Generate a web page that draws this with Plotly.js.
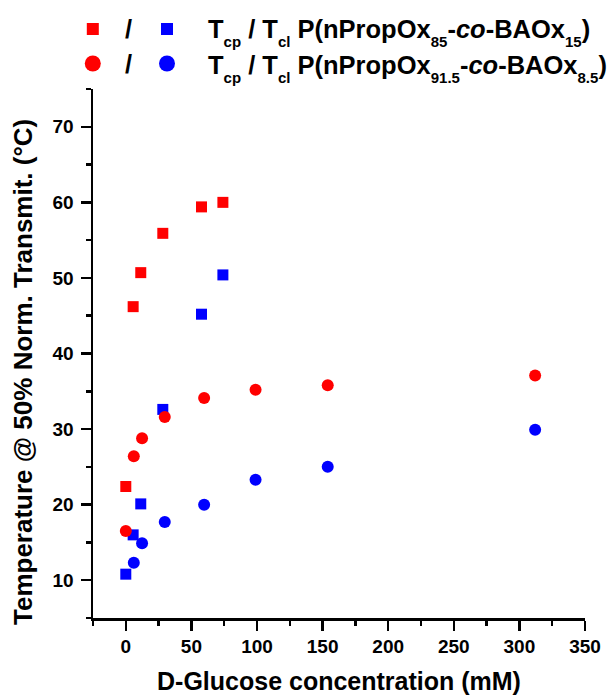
<!DOCTYPE html>
<html>
<head>
<meta charset="utf-8">
<script src="https://cdn.plot.ly/plotly-3.0.1.min.js"></script>
<style>html,body{margin:0;padding:0;background:#fff;}#chart{width:613px;height:699px;}</style>
</head>
<body>
<div id="chart"></div>
<script>
// Data
var sq85X = [0, 5.6, 11.4, 28.2, 57.7, 74.0];
var sq85Tcp = [22.4, 46.2, 50.7, 55.9, 59.4, 60.0];
var sq85Tcl = [10.8, 16.0, 20.1, 32.6, 45.2, 50.4];

var ci91X_cp = [0, 6.1, 12.4, 29.7, 59.7, 98.9, 153.9, 312];
var ci91Tcp = [16.5, 26.4, 28.8, 31.6, 34.1, 35.2, 35.8, 37.1];
var ci91X_cl = [6.1, 12.4, 29.7, 59.7, 98.9, 153.9, 312];
var ci91Tcl = [12.3, 14.9, 17.7, 20.0, 23.3, 25.0, 29.9];

function sb(t){ return "<sub><sub><span style='font-size:15px'>" + t + "</span></sub></sub>"; }
var legendLabels = [
  "T" + sb("cp") + " / T" + sb("cl") + " P(nPropOx" + sb("85") + "-<i>co</i>-BAOx" + sb("15") + ")",
  "T" + sb("cp") + " / T" + sb("cl") + " P(nPropOx" + sb("91.5") + "-<i>co</i>-BAOx" + sb("8.5") + ")"
];
var xTitle = "D-Glucose concentration (mM)";
var yTitle = "Temperature @ 50% Norm. Transmit. (°C)";

var RED = "#ff0000", BLUE = "#0000ff";
var FONT = "Liberation Sans, Arial, sans-serif";

// layout geometry (pixels)
var W = 613, H = 699;
var L = 93, R = 28, T = 89, B = 81;
var pw = W - L - R, ph = H - T - B;
function px(x){ return (x - L) / pw; }
function py(y){ return (H - B - y) / ph; }

var traces = [
  {x: sq85X, y: sq85Tcp, mode: "markers", type: "scatter",
   marker: {symbol: "square", size: 11, color: RED}, showlegend: false},
  {x: sq85X, y: sq85Tcl, mode: "markers", type: "scatter",
   marker: {symbol: "square", size: 11, color: BLUE}, showlegend: false},
  {x: ci91X_cp, y: ci91Tcp, mode: "markers", type: "scatter",
   marker: {symbol: "circle", size: 12, color: RED}, showlegend: false},
  {x: ci91X_cl, y: ci91Tcl, mode: "markers", type: "scatter",
   marker: {symbol: "circle", size: 12, color: BLUE}, showlegend: false}
];

var shapes = [];
function sq(cx, cy, s, c){
  shapes.push({type: "rect", xref: "paper", yref: "paper",
    x0: px(cx - s/2), x1: px(cx + s/2), y0: py(cy + s/2), y1: py(cy - s/2),
    fillcolor: c, line: {width: 0}});
}
function circ(cx, cy, d, c){
  shapes.push({type: "circle", xref: "paper", yref: "paper",
    x0: px(cx - d/2), x1: px(cx + d/2), y0: py(cy + d/2), y1: py(cy - d/2),
    fillcolor: c, line: {width: 0}});
}
var row1 = 29, row2 = 63.5;
sq(92.8, row1, 12, RED); sq(167, row1, 12, BLUE);
circ(92.8, row2, 16, RED); circ(167, row2, 16, BLUE);

var legFont = {family: FONT, size: 25.5, color: "#000", weight: "bold"};
var annotations = [
  {xref: "paper", yref: "paper", x: px(128.5), y: py(row1), text: "/", showarrow: false,
   xanchor: "center", yanchor: "middle", font: legFont},
  {xref: "paper", yref: "paper", x: px(128.5), y: py(row2), text: "/", showarrow: false,
   xanchor: "center", yanchor: "middle", font: legFont},
  {xref: "paper", yref: "paper", x: px(206), y: py(row1 + 3), text: legendLabels[0], showarrow: false,
   xanchor: "left", yanchor: "middle", font: legFont},
  {xref: "paper", yref: "paper", x: px(206), y: py(row2 + 5), text: legendLabels[1], showarrow: false,
   xanchor: "left", yanchor: "middle", font: legFont},
  {xref: "paper", yref: "paper", x: px(23), y: py(372), text: yTitle, showarrow: false,
   textangle: -90, xanchor: "center", yanchor: "middle",
   font: {family: FONT, size: 26, color: "#000", weight: "bold"}}
];

var axisCommon = {
  showgrid: false, zeroline: false, showline: true, linecolor: "#000", linewidth: 2.5,
  ticks: "outside", ticklen: 10, tickwidth: 2.5, tickcolor: "#000",
  tickfont: {family: FONT, size: 19, color: "#000", weight: "bold"},
  mirror: false
};

var layout = {
  width: W, height: H,
  margin: {l: L, r: R, t: T, b: B, pad: 0},
  paper_bgcolor: "#fff", plot_bgcolor: "#fff",
  showlegend: false,
  xaxis: Object.assign({}, axisCommon, {
    range: [-25, 350], tick0: 0, dtick: 50,
    minor: {dtick: 25, tick0: 0, ticks: "outside", ticklen: 5, tickwidth: 2.5, tickcolor: "#000"},
    title: {text: xTitle, standoff: 16, font: {family: FONT, size: 25, color: "#000", weight: "bold"}}
  }),
  yaxis: Object.assign({}, axisCommon, {
    range: [5, 75], tick0: 0, dtick: 10, ticklabelstandoff: 3,
    minor: {dtick: 5, tick0: 0, ticks: "outside", ticklen: 5, tickwidth: 2.5, tickcolor: "#000"}
  }),
  shapes: shapes,
  annotations: annotations
};

Plotly.newPlot("chart", traces, layout, {displayModeBar: false, staticPlot: true});
</script>
</body>
</html>
